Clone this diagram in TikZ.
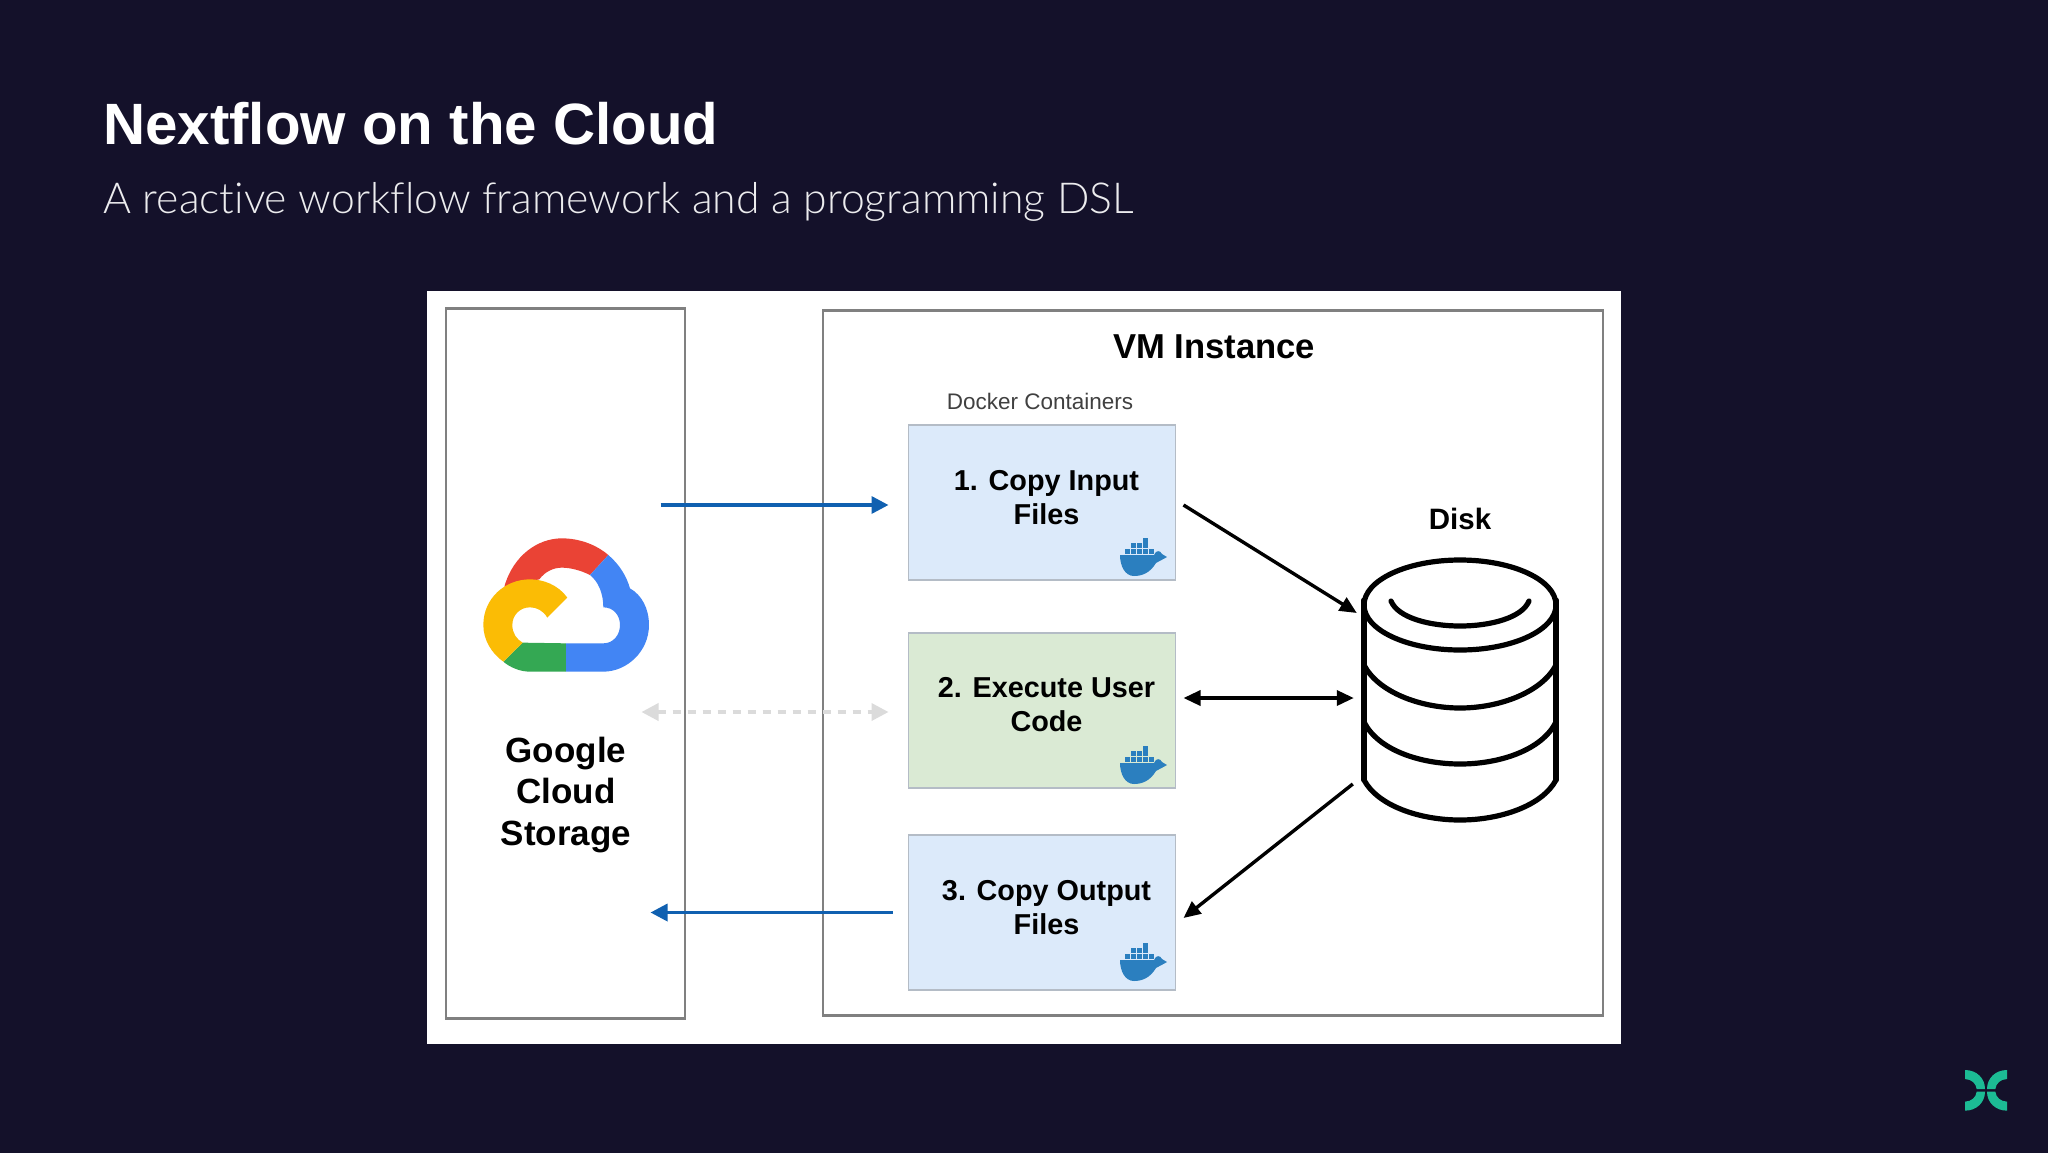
\documentclass[tikz,border=0pt]{standalone}
\usepackage{fontspec}
\usetikzlibrary{arrows.meta,calc}
\setmainfont{Liberation Sans}
\newfontfamily\subfont[Ligatures=NoCommon]{Lato Light}
\definecolor{bg}{HTML}{14112A}
\definecolor{boxblue}{HTML}{DCEAFA}
\definecolor{boxgreen}{HTML}{DAEAD4}
\definecolor{boxline}{HTML}{B4BCC6}
\definecolor{frameline}{HTML}{808080}
\definecolor{arrowblue}{HTML}{1060B0}
\definecolor{dockerblue}{HTML}{2B7FBF}
\definecolor{gred}{HTML}{EA4335}
\definecolor{gblue}{HTML}{4285F4}
\definecolor{ggreen}{HTML}{34A853}
\definecolor{gyellow}{HTML}{FBBC05}
\definecolor{logogreen}{HTML}{1CBB94}
\tikzset{
  x=1pt,y=-1pt,
  frame/.style={draw=frameline,line width=2.8pt,fill=white,minimum width=0pt,inner sep=0pt,outer sep=0pt},
  stage/.style={draw=boxline,line width=1.2pt,inner sep=0pt,outer sep=0pt,minimum width=267pt,minimum height=155pt},
  lab/.style={font=\fontsize{28.8}{34}\selectfont\bfseries,align=center,inner sep=0pt,text=black},
  blueflow/.style={draw=arrowblue,line width=3.4pt,-{Triangle[length=17pt,width=17pt]}},
  blackflow/.style={draw=black,line width=3.4pt,-{Triangle[length=17pt,width=15pt]}},
  dualflow/.style={draw=black,line width=3.4pt,{Triangle[length=17pt,width=15pt]}-{Triangle[length=17pt,width=15pt]}},
  ghostflow/.style={draw=black!14,line width=3.6pt,dash pattern=on 8pt off 7pt,{Triangle[length=17pt,width=17pt]}-{Triangle[length=17pt,width=17pt]}},
  disk line/.style={draw=black,line width=5.2pt,line cap=round},
  whale/.pic={
    \fill[dockerblue] (0,-21) -- (34,-21) .. controls (36,-26) and (40,-26) .. (42,-22) -- (47,-19)
      .. controls (42,-16) and (39,-15) .. (36,-13) .. controls (30,-3) and (22,0) .. (14,0)
      .. controls (5,0) and (0,-10) .. (0,-21) -- cycle;
    \foreach \cx in {5,11,17,23,29} \fill[dockerblue] (\cx,-27) rectangle ++(5.4,5.4);
    \foreach \cx in {11,17,23} \fill[dockerblue] (\cx,-33) rectangle ++(5.4,5.4);
    \fill[dockerblue] (23,-38) rectangle ++(5.4,5.4);
  },
}
\begin{document}
\begin{tikzpicture}
\useasboundingbox (0,0) rectangle (2048,1152);
\fill[bg] (-3,-3) rectangle (2051,1155);

% title
\node[anchor=west,inner sep=0pt,text=white,font=\fontsize{58.3}{64}\selectfont\bfseries] (title) at (103,124) {Nextflow on the Cloud};
\node[anchor=west,inner sep=0pt,text=white!92!bg,font=\fontsize{42.7}{48}\selectfont\subfont] (subtitle) at (103,202) {A reactive workflow framework and a programming DSL};

% panel
\fill[white] (427,291) rectangle (1621,1044);
\node[frame,minimum width=239pt,minimum height=710pt] (gcs) at (565.5,663.5) {};
\node[frame,minimum width=780pt,minimum height=705pt] (vm) at (1213,663) {};

% stages
\node[stage,fill=boxblue] (box1) at (1042,502.5) {};
\node[stage,fill=boxgreen] (box2) at (1042,710.5) {};
\node[stage,fill=boxblue] (box3) at (1042,912.5) {};
\node[lab] (t1) at (1046.5,498) {1. Copy Input\\Files};
\node[lab] (t2) at (1046.5,705) {2. Execute User\\Code};
\node[lab] (t3) at (1046.5,908) {3. Copy Output\\Files};
\pic at (1120,576) {whale};
\pic at (1120,784) {whale};
\pic at (1120,981) {whale};

% labels
\node[inner sep=0pt,font=\fontsize{34.6}{40}\selectfont\bfseries,text=black] (vmt) at (1214,347) {VM Instance};
\node[inner sep=0pt,font=\fontsize{22.5}{28}\selectfont,text=black!75] (dock) at (1040,401) {Docker Containers};
\node[inner sep=0pt,font=\fontsize{29.5}{34}\selectfont\bfseries,text=black] (disklab) at (1460,518.5) {Disk};
\node[inner sep=0pt,align=center,font=\fontsize{35}{41.8}\selectfont\bfseries,text=black] (gcst) at (566,795) {Google\\Cloud\\Storage};

% cloud logo
\begin{scope}[shift={(460,520)},x=0.3333pt,y=-0.3333pt]
\fill[gred] (133,200) .. controls (160,105) and (235,55) .. (305,55) .. controls (360,55) and (410,75) .. (445,105) -- (390,165) .. controls (360,150) and (330,143) .. (305,143) .. controls (280,143) and (255,155) .. (238,178) -- cycle;
\fill[gblue] (445,105) .. controls (480,135) and (500,170) .. (510,205) .. controls (545,225) and (567,265) .. (567,315) .. controls (567,395) and (500,455) .. (430,455) -- (318,455) -- (318,370) -- (430,370) .. controls (460,370) and (480,345) .. (480,315) .. controls (480,285) and (460,262) .. (430,262) .. controls (430,220) and (415,185) .. (390,165) -- cycle;
\fill[ggreen] (188,368) -- (318,370) -- (318,455) -- (210,455) .. controls (180,455) and (150,442) .. (130,425) -- cycle;
\fill[gyellow] (130,425) .. controls (95,400) and (70,360) .. (70,315) .. controls (70,235) and (135,178) .. (210,178) .. controls (250,178) and (295,195) .. (322,233) -- (262,293) .. controls (250,272) and (230,262) .. (210,262) .. controls (180,262) and (157,285) .. (157,315) .. controls (157,340) and (170,358) .. (188,368) -- cycle;
\end{scope}

% disk
\node[inner sep=0pt,minimum width=198pt,minimum height=264pt] (disk) at (1461,690) {};
\draw[disk line] (1364,600) -- (1364,780);
\draw[disk line] (1556,600) -- (1556,780);
\draw[disk line] (1460,605) ellipse (96pt and 45pt);
\draw[disk line] (1364,780) .. controls (1378,806) and (1420,820) .. (1460,820) .. controls (1500,820) and (1542,806) .. (1556,780);
\draw[disk line] (1364,665) .. controls (1378,692) and (1420,708) .. (1460,708) .. controls (1500,708) and (1542,692) .. (1556,665);
\draw[disk line] (1364,722) .. controls (1378,750) and (1420,764) .. (1460,764) .. controls (1500,764) and (1542,750) .. (1556,722);
\draw[disk line] (1391,601) .. controls (1398,618) and (1430,626) .. (1460,626) .. controls (1490,626) and (1522,618) .. (1529,601);

% connectors
\coordinate (b1s) at ($(box1.west)+(-248,2.5)$);
\coordinate (b1e) at ($(box1.west)+(-20,2.5)$);
\coordinate (g1s) at ($(box2.west)+(-267,1.5)$);
\coordinate (g1e) at ($(box2.west)+(-20,1.5)$);
\coordinate (b3s) at ($(box3.west)+(-16,0)$);
\coordinate (b3e) at ($(box3.west)+(-258,0)$);
\coordinate (k1s) at ($(box1.east)+(8,2.5)$);
\coordinate (k1e) at ($(disk.west)+(-5,-77)$);
\coordinate (k2s) at ($(box2.east)+(8,-12.5)$);
\coordinate (k2e) at ($(disk.west)+(-8,8)$);
\coordinate (k3s) at ($(disk.west)+(-9,94)$);
\coordinate (k3e) at ($(box3.east)+(8,5.5)$);
\draw[blueflow] (b1s) -- (b1e);
\draw[ghostflow] (g1s) -- (g1e);
\draw[blueflow] (b3s) -- (b3e);
\draw[blackflow] (k1s) -- (k1e);
\draw[dualflow] (k2s) -- (k2e);
\draw[blackflow] (k3s) -- (k3e);

% corner logo
\begin{scope}[shift={(1950,1050)},x=0.3333pt,y=-0.3333pt]
\foreach \sx/\sy in {1/1,-1/1,1/-1,-1/-1}{
  \begin{scope}[shift={(108,121)},xscale=\sx,yscale=\sy]
  \fill[logogreen] (-63,-61) .. controls (-28,-61) and (-3,-36) .. (-3,-4) -- (-28,-4) .. controls (-30,-21) and (-43,-33) .. (-63,-34) -- cycle;
  \end{scope}
}
\end{scope}
\end{tikzpicture}
\end{document}
